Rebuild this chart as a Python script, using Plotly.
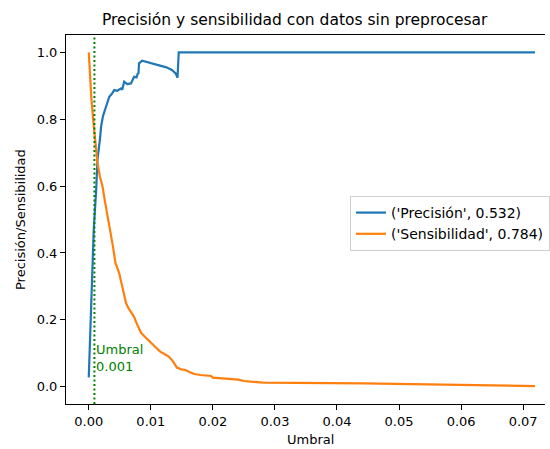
import plotly.graph_objects as go

# Precision curve over the decision threshold
umbral_prec = [0.0, 0.0003, 0.0005, 0.0008, 0.0012, 0.0014, 0.0018, 0.0020, 0.0023,
               0.0027, 0.0030, 0.0033, 0.0037, 0.0041, 0.0046, 0.0052, 0.0054, 0.0057,
               0.0062, 0.0068, 0.0071, 0.0073, 0.0077, 0.0079, 0.0080, 0.0081, 0.0086,
               0.0095, 0.0105, 0.0113, 0.0125, 0.0134, 0.0140, 0.0143, 0.0145, 0.0719]
precision = [0.028, 0.21, 0.36, 0.47, 0.59, 0.68, 0.74, 0.78, 0.81,
             0.83, 0.85, 0.867, 0.875, 0.887, 0.885, 0.892, 0.888, 0.912,
             0.905, 0.907, 0.918, 0.927, 0.925, 0.937, 0.935, 0.967, 0.975,
             0.970, 0.966, 0.962, 0.955, 0.947, 0.937, 0.924, 1.0, 1.0]

# Recall (sensibilidad) curve over the decision threshold
umbral_sens = [0.0, 0.0002, 0.0004, 0.0007, 0.0011, 0.0014, 0.0018, 0.0022, 0.0026,
               0.0030, 0.0034, 0.0039, 0.0043, 0.0049, 0.0054, 0.0060, 0.0064, 0.0068,
               0.0073, 0.0077, 0.0084, 0.0090, 0.0098, 0.0108, 0.0115, 0.0122, 0.0129,
               0.0136, 0.0142, 0.0149, 0.0156, 0.0162, 0.0170, 0.0180, 0.0197, 0.0200,
               0.0220, 0.0241, 0.0250, 0.0265, 0.0281, 0.0443, 0.0550, 0.0602, 0.0650,
               0.0719]
sensibilidad = [1.0, 0.93, 0.867, 0.80, 0.72, 0.67, 0.628, 0.60, 0.555,
                0.515, 0.47, 0.419, 0.37, 0.339, 0.30, 0.25, 0.235, 0.225,
                0.209, 0.19, 0.162, 0.150, 0.135, 0.115, 0.105, 0.098, 0.090,
                0.075, 0.057, 0.052, 0.050, 0.044, 0.038, 0.035, 0.032, 0.027,
                0.025, 0.021, 0.017, 0.014, 0.012, 0.010, 0.008, 0.006, 0.004,
                0.002]

umbral_optimo = 0.00091
etiqueta_umbral = 0.001
nombres = [("Precisión", 0.532), ("Sensibilidad", 0.784)]

x_ticks = [0.0, 0.01, 0.02, 0.03, 0.04, 0.05, 0.06, 0.07]
y_ticks = [0.0, 0.2, 0.4, 0.6, 0.8, 1.0]

FONT = "DejaVu Sans"

fig = go.Figure()
fig.add_trace(go.Scatter(
    x=umbral_prec, y=precision, mode="lines",
    name=f"('{nombres[0][0]}', {nombres[0][1]})",
    line=dict(color="#1f77b4", width=2.2),
))
fig.add_trace(go.Scatter(
    x=umbral_sens, y=sensibilidad, mode="lines",
    name=f"('{nombres[1][0]}', {nombres[1][1]})",
    line=dict(color="#ff7f0e", width=2.2),
))

# vertical dotted marker at the chosen threshold
fig.add_shape(type="line", xref="x", yref="paper",
              x0=umbral_optimo, x1=umbral_optimo, y0=0, y1=1,
              line=dict(color="#008000", width=2, dash="2px,2.5px"))

fig.add_annotation(x=umbral_optimo, y=0.086, xref="x", yref="y",
                   text=f"Umbral<br>{etiqueta_umbral}", showarrow=False,
                   xanchor="left", yanchor="middle", align="left", xshift=0,
                   font=dict(family=FONT, size=13, color="#008000"))

# title and axis labels
fig.add_annotation(x=0.479, y=1.0407, xref="paper", yref="paper",
                   text="Precisión y sensibilidad con datos sin preprocesar",
                   showarrow=False, xanchor="center", yanchor="middle",
                   font=dict(family=FONT, size=15.5, color="black"))
fig.add_annotation(x=0.510, y=-0.095, xref="paper", yref="paper",
                   text="Umbral", showarrow=False, xanchor="center", yanchor="middle",
                   font=dict(family=FONT, size=13, color="black"))
fig.add_annotation(x=-0.095, y=0.5, xref="paper", yref="paper",
                   text="Precisión/Sensibilidad", showarrow=False, textangle=-90,
                   xanchor="center", yanchor="middle",
                   font=dict(family=FONT, size=13, color="black"))

fig.update_layout(
    width=550, height=449,
    margin=dict(l=66, r=0, t=35, b=45),
    paper_bgcolor="white", plot_bgcolor="white",
    font=dict(family=FONT, size=13, color="black"),
    showlegend=True,
    legend=dict(x=0.593, y=0.5637, xanchor="left", yanchor="top",
                bgcolor="rgba(255,255,255,0.8)", bordercolor="#d0d0d0",
                borderwidth=1, font=dict(family=FONT, size=14, color="black")),
    hovermode=False,
)
fig.update_xaxes(range=[-0.00367, 0.07352], tickvals=x_ticks,
                 ticktext=[f"{v:.2f}" for v in x_ticks],
                 showgrid=False, zeroline=False, showline=True, linecolor="black",
                 linewidth=1, mirror=True, ticks="outside", ticklen=5,
                 tickcolor="black", tickfont=dict(family=FONT, size=13))
fig.update_yaxes(range=[-0.0517, 1.0518], tickvals=y_ticks,
                 ticktext=[f"{v:.1f}" for v in y_ticks],
                 showgrid=False, zeroline=False, showline=True, linecolor="black",
                 linewidth=1, ticks="outside", ticklen=5,
                 tickcolor="black", tickfont=dict(family=FONT, size=13))

fig.write_html("out.html")
